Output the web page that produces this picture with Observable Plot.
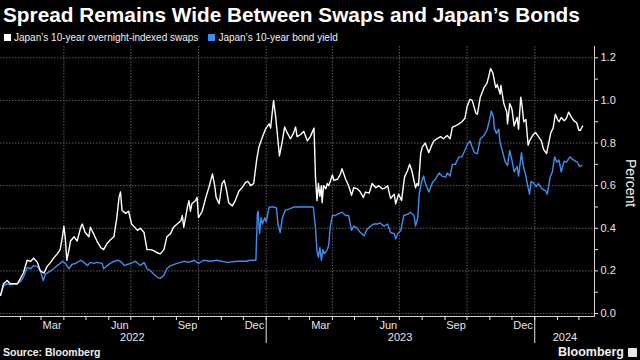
<!DOCTYPE html>
<html>
<head>
<meta charset="utf-8">
<script src="https://cdn.jsdelivr.net/npm/d3@7"></script>
<script src="https://cdn.jsdelivr.net/npm/@observablehq/plot@0.6"></script>
<style>
html,body{margin:0;padding:0;background:#000;}
#wrap{position:relative;width:640px;height:360px;overflow:hidden;background:#000;color:#fff;font-family:"Liberation Sans",Arial,sans-serif;}
#title{position:absolute;left:3px;top:5px;font-weight:bold;font-size:20.8px;line-height:20.8px;white-space:nowrap;color:#fff;}
#legend{position:absolute;left:4px;top:32.5px;font-size:10px;line-height:10px;color:#f0f0f0;white-space:nowrap;}
#legend .item{display:inline-block;margin-right:10px;}
#legend .sw{display:inline-block;width:7px;height:7px;margin-right:3px;vertical-align:0px;}
#chart{position:absolute;left:0;top:44px;}
#ylab{position:absolute;left:631px;top:183px;transform:translate(-50%,-50%) rotate(90deg);font-size:14px;line-height:14px;color:#f0f0f0;white-space:nowrap;}
#source{position:absolute;left:3px;top:347px;font-weight:bold;font-size:10.5px;line-height:10.5px;color:#f0f0f0;white-space:nowrap;}
#logo{position:absolute;right:3px;top:346px;font-weight:bold;font-size:12.5px;line-height:12.5px;color:#f0f0f0;white-space:nowrap;}
#logo .ic{display:inline-block;width:9px;height:9px;background:#e8e8e8;border-radius:1px;margin-left:4px;vertical-align:-1px;}
</style>
</head>
<body>
<div id="wrap">
  <div id="title">Spread Remains Wide Between Swaps and Japan’s Bonds</div>
  <div id="legend"></div>
  <div id="chart"></div>
  <div id="ylab">Percent</div>
  <div id="source">Source: Bloomberg</div>
  <div id="logo">Bloomberg<span class="ic"></span></div>
</div>
<script>
// ---- Series names ----
const seriesNames = ["Japan’s 10-year overnight-indexed swaps", "Japan’s 10-year bond yield"];
const seriesColors = ["#ffffff", "#3d8ef0"];

// ---- Japan 10-year OIS (percent) ----
const swapDates = ["2022-01-05","2022-01-09","2022-01-14","2022-01-18","2022-01-28","2022-02-01","2022-02-05","2022-02-10","2022-02-15","2022-02-19","2022-02-24","2022-02-28","2022-03-05","2022-03-09","2022-03-14","2022-03-18","2022-03-23","2022-03-27","2022-03-30","2022-04-01","2022-04-03","2022-04-05","2022-04-08","2022-04-10","2022-04-15","2022-04-19","2022-04-24","2022-04-26","2022-04-30","2022-05-05","2022-05-07","2022-05-12","2022-05-16","2022-05-21","2022-05-25","2022-05-30","2022-06-03","2022-06-08","2022-06-12","2022-06-15","2022-06-17","2022-06-19","2022-06-24","2022-06-28","2022-07-02","2022-07-05","2022-07-10","2022-07-14","2022-07-19","2022-07-23","2022-07-28","2022-08-01","2022-08-06","2022-08-10","2022-08-15","2022-08-19","2022-08-24","2022-08-28","2022-09-02","2022-09-07","2022-09-09","2022-09-11","2022-09-16","2022-09-18","2022-09-20","2022-09-22","2022-09-27","2022-09-29","2022-10-01","2022-10-06","2022-10-11","2022-10-15","2022-10-20","2022-10-23","2022-10-25","2022-10-29","2022-11-02","2022-11-05","2022-11-08","2022-11-11","2022-11-16","2022-11-20","2022-11-25","2022-11-29","2022-12-04","2022-12-07","2022-12-11","2022-12-15","2022-12-19","2022-12-22","2022-12-27","2022-12-31","2023-01-05","2023-01-07","2023-01-11","2023-01-14","2023-01-19","2023-01-23","2023-01-26","2023-01-30","2023-02-03","2023-02-07","2023-02-10","2023-02-12","2023-02-17","2023-02-21","2023-02-26","2023-03-02","2023-03-07","2023-03-09","2023-03-11","2023-03-13","2023-03-15","2023-03-17","2023-03-18","2023-03-20","2023-03-23","2023-03-25","2023-03-27","2023-04-01","2023-04-03","2023-04-08","2023-04-12","2023-04-14","2023-04-19","2023-04-23","2023-04-27","2023-04-30","2023-05-05","2023-05-09","2023-05-13","2023-05-16","2023-05-21","2023-05-25","2023-05-30","2023-06-03","2023-06-08","2023-06-12","2023-06-15","2023-06-19","2023-06-24","2023-06-26","2023-06-30","2023-07-04","2023-07-08","2023-07-12","2023-07-15","2023-07-18","2023-07-23","2023-07-25","2023-07-27","2023-07-30","2023-08-01","2023-08-05","2023-08-10","2023-08-14","2023-08-17","2023-08-21","2023-08-26","2023-08-30","2023-09-04","2023-09-08","2023-09-11","2023-09-15","2023-09-20","2023-09-24","2023-09-28","2023-10-01","2023-10-05","2023-10-08","2023-10-13","2023-10-15","2023-10-19","2023-10-24","2023-10-28","2023-10-31","2023-11-02","2023-11-05","2023-11-09","2023-11-11","2023-11-15","2023-11-16","2023-11-20","2023-11-24","2023-11-25","2023-11-28","2023-12-01","2023-12-04","2023-12-08","2023-12-10","2023-12-13","2023-12-15","2023-12-17","2023-12-20","2023-12-23","2023-12-25","2023-12-29","2024-01-02","2024-01-07","2024-01-10","2024-01-13","2024-01-17","2024-01-20","2024-01-23","2024-01-26","2024-01-29","2024-02-01","2024-02-03","2024-02-06","2024-02-10","2024-02-13","2024-02-16","2024-02-20","2024-02-23","2024-02-27","2024-03-01","2024-03-03","2024-03-06"];
const swapValues = [0.085,0.14,0.155,0.14,0.14,0.165,0.19,0.25,0.245,0.26,0.24,0.20,0.19,0.22,0.24,0.26,0.28,0.30,0.36,0.41,0.35,0.25,0.30,0.34,0.36,0.34,0.405,0.42,0.38,0.36,0.405,0.37,0.34,0.31,0.30,0.33,0.345,0.36,0.45,0.545,0.57,0.485,0.47,0.48,0.42,0.41,0.39,0.40,0.38,0.30,0.30,0.295,0.285,0.28,0.30,0.36,0.375,0.405,0.42,0.435,0.46,0.405,0.50,0.53,0.48,0.515,0.53,0.545,0.45,0.48,0.545,0.59,0.655,0.60,0.545,0.515,0.61,0.625,0.58,0.52,0.505,0.53,0.575,0.59,0.615,0.62,0.60,0.61,0.72,0.78,0.83,0.865,0.89,0.87,1.00,0.92,0.74,0.81,0.875,0.845,0.82,0.845,0.875,0.83,0.84,0.855,0.81,0.83,0.87,0.64,0.53,0.61,0.55,0.60,0.52,0.60,0.585,0.61,0.60,0.65,0.625,0.63,0.655,0.68,0.63,0.60,0.555,0.59,0.585,0.57,0.545,0.57,0.565,0.61,0.59,0.60,0.585,0.59,0.60,0.54,0.56,0.515,0.56,0.53,0.64,0.67,0.70,0.67,0.59,0.61,0.60,0.75,0.78,0.80,0.755,0.79,0.81,0.82,0.83,0.82,0.835,0.82,0.875,0.88,0.89,0.90,0.915,0.97,1.005,1.00,0.94,0.935,1.015,1.06,1.08,1.12,1.15,1.13,1.06,1.075,1.03,1.07,0.985,0.945,0.89,0.985,0.96,0.88,0.92,0.865,1.015,0.97,0.90,0.91,0.79,0.81,0.835,0.85,0.825,0.81,0.77,0.75,0.80,0.85,0.87,0.935,0.91,0.90,0.92,0.905,0.915,0.945,0.92,0.905,0.895,0.86,0.86,0.88];

// ---- Japan 10-year government bond yield (percent) ----
const bondDates = ["2022-01-05","2022-01-09","2022-01-14","2022-01-18","2022-01-28","2022-02-01","2022-02-05","2022-02-10","2022-02-15","2022-02-19","2022-02-24","2022-02-28","2022-03-04","2022-03-07","2022-03-14","2022-03-18","2022-03-23","2022-03-27","2022-03-30","2022-04-03","2022-04-08","2022-04-12","2022-04-17","2022-04-24","2022-04-28","2022-05-03","2022-05-07","2022-05-12","2022-05-16","2022-05-23","2022-05-25","2022-05-30","2022-06-03","2022-06-08","2022-06-13","2022-06-17","2022-06-22","2022-06-26","2022-07-01","2022-07-07","2022-07-14","2022-07-19","2022-07-23","2022-07-28","2022-08-01","2022-08-06","2022-08-10","2022-08-15","2022-08-19","2022-08-24","2022-09-02","2022-09-11","2022-09-18","2022-09-25","2022-10-01","2022-10-08","2022-10-17","2022-10-26","2022-11-09","2022-11-23","2022-12-04","2022-12-11","2022-12-18","2022-12-20","2022-12-21","2022-12-23","2022-12-25","2022-12-27","2022-12-30","2023-01-01","2023-01-05","2023-01-11","2023-01-15","2023-01-17","2023-01-20","2023-01-23","2023-01-27","2023-02-01","2023-02-08","2023-02-17","2023-02-26","2023-03-06","2023-03-09","2023-03-11","2023-03-13","2023-03-15","2023-03-17","2023-03-19","2023-03-21","2023-03-25","2023-03-27","2023-03-29","2023-04-01","2023-04-05","2023-04-10","2023-04-14","2023-04-19","2023-04-23","2023-04-27","2023-04-30","2023-05-05","2023-05-09","2023-05-14","2023-05-18","2023-05-23","2023-05-27","2023-06-01","2023-06-05","2023-06-10","2023-06-15","2023-06-19","2023-06-24","2023-06-26","2023-06-29","2023-07-03","2023-07-07","2023-07-12","2023-07-16","2023-07-21","2023-07-23","2023-07-26","2023-07-28","2023-07-31","2023-08-03","2023-08-05","2023-08-10","2023-08-15","2023-08-19","2023-08-24","2023-08-28","2023-09-02","2023-09-04","2023-09-08","2023-09-11","2023-09-15","2023-09-20","2023-09-24","2023-09-28","2023-10-01","2023-10-05","2023-10-08","2023-10-11","2023-10-15","2023-10-19","2023-10-24","2023-10-28","2023-10-31","2023-11-03","2023-11-06","2023-11-07","2023-11-10","2023-11-13","2023-11-15","2023-11-19","2023-11-22","2023-11-25","2023-11-28","2023-12-01","2023-12-04","2023-12-08","2023-12-10","2023-12-14","2023-12-16","2023-12-20","2023-12-23","2023-12-25","2023-12-27","2023-12-31","2024-01-03","2024-01-06","2024-01-11","2024-01-16","2024-01-18","2024-01-22","2024-01-25","2024-01-28","2024-01-31","2024-02-03","2024-02-06","2024-02-10","2024-02-13","2024-02-18","2024-02-21","2024-02-25","2024-02-28","2024-03-02","2024-03-05"];
const bondValues = [0.085,0.13,0.14,0.135,0.14,0.15,0.17,0.215,0.21,0.225,0.22,0.20,0.155,0.185,0.20,0.21,0.225,0.235,0.245,0.235,0.21,0.23,0.235,0.25,0.24,0.225,0.24,0.235,0.24,0.235,0.21,0.225,0.235,0.245,0.25,0.245,0.225,0.23,0.235,0.245,0.225,0.24,0.21,0.20,0.185,0.17,0.165,0.18,0.21,0.225,0.235,0.245,0.24,0.25,0.235,0.25,0.245,0.25,0.24,0.245,0.245,0.25,0.25,0.47,0.48,0.375,0.45,0.42,0.45,0.43,0.50,0.50,0.495,0.42,0.38,0.45,0.485,0.49,0.50,0.50,0.50,0.50,0.405,0.295,0.265,0.31,0.25,0.30,0.28,0.30,0.32,0.405,0.46,0.46,0.47,0.475,0.46,0.46,0.39,0.41,0.40,0.38,0.365,0.395,0.41,0.42,0.42,0.425,0.41,0.42,0.38,0.375,0.35,0.375,0.39,0.46,0.465,0.475,0.46,0.41,0.45,0.56,0.615,0.645,0.615,0.57,0.615,0.63,0.66,0.645,0.64,0.66,0.645,0.70,0.70,0.735,0.735,0.765,0.79,0.81,0.78,0.755,0.75,0.82,0.835,0.86,0.90,0.95,0.92,0.87,0.845,0.865,0.80,0.75,0.71,0.695,0.765,0.72,0.665,0.69,0.645,0.755,0.70,0.645,0.59,0.56,0.62,0.61,0.595,0.61,0.585,0.575,0.56,0.64,0.665,0.735,0.71,0.72,0.665,0.715,0.71,0.735,0.725,0.715,0.71,0.69,0.695];

// ---- Axis ticks and labels ----
const xDomainDates = ["2022-01-04T21:00Z", "2024-03-22T05:30Z"];
const yDomainValues = [-0.014, 1.253];
const yTicks = [0, 0.2, 0.4, 0.6, 0.8, 1.0, 1.2];
const yMinorTicks = [0.1, 0.3, 0.5, 0.7, 0.9, 1.1];
const quarterStarts = ["2022-04-01","2022-07-01","2022-10-01","2023-01-01","2023-04-01","2023-07-01","2023-10-01","2024-01-01"];
const monthStarts = ["2022-02-01","2022-03-01","2022-04-01","2022-05-01","2022-06-01","2022-07-01","2022-08-01","2022-09-01","2022-10-01","2022-11-01","2022-12-01","2023-01-01","2023-02-01","2023-03-01","2023-04-01","2023-05-01","2023-06-01","2023-07-01","2023-08-01","2023-09-01","2023-10-01","2023-11-01","2023-12-01","2024-01-01","2024-02-01","2024-03-01"];
const monthLabels = ["Mar","Jun","Sep","Dec","Mar","Jun","Sep","Dec"];
const monthLabelDates = ["2022-03-16","2022-06-16","2022-09-16","2022-12-16","2023-03-16","2023-06-16","2023-09-16","2023-12-16"];
const yearLabels = ["2022","2023","2024"];
const yearLabelDates = ["2022-07-03","2023-07-02","2024-02-11"];
const yearStarts = ["2023-01-01","2024-01-01"];

const parse = d3.utcParse("%Y-%m-%d");
const swap = swapDates.map((d, i) => ({date: parse(d), value: swapValues[i]}));
const bond = bondDates.map((d, i) => ({date: parse(d), value: bondValues[i]}));

const monthLabelMap = new Map(monthLabelDates.map((d, i) => [+parse(d), monthLabels[i]]));
const yearLabelMap = new Map(yearLabelDates.map((d, i) => [+parse(d), yearLabels[i]]));

// Legend
const legend = document.getElementById("legend");
seriesNames.forEach((name, i) => {
  const item = document.createElement("span");
  item.className = "item";
  const sw = document.createElement("span");
  sw.className = "sw";
  sw.style.background = seriesColors[i];
  item.appendChild(sw);
  item.appendChild(document.createTextNode(name));
  legend.appendChild(item);
});

const gridStyle = {stroke: "#5c5c5c", strokeOpacity: 1, strokeWidth: 1, strokeDasharray: "1.5,1.5"};

const chart = Plot.plot({
  width: 640,
  height: 304,
  marginLeft: 0,
  marginRight: 46,
  marginTop: 2,
  marginBottom: 32,
  style: {background: "#000", color: "#e6e6e6", fontFamily: "'Liberation Sans', Arial, sans-serif", fontSize: "11px", overflow: "visible"},
  x: {type: "utc", domain: xDomainDates.map(d => new Date(d)), label: null},
  y: {domain: yDomainValues, label: null},
  marks: [
    Plot.gridY(yTicks, gridStyle),
    Plot.gridX(quarterStarts.map(parse), gridStyle),
    Plot.line(bond, {x: "date", y: "value", stroke: seriesColors[1], strokeWidth: 1.4}),
    Plot.line(swap, {x: "date", y: "value", stroke: seriesColors[0], strokeWidth: 1.4}),
    Plot.frame({anchor: "right", stroke: "#d0d0d0"}),
    Plot.frame({anchor: "bottom", stroke: "#d0d0d0"}),
    Plot.axisY(yTicks, {anchor: "right", tickSize: 3, tickPadding: 3, tickFormat: d => d.toFixed(1), label: null, fontSize: 11}),
    Plot.axisY(yMinorTicks, {anchor: "right", tickSize: 3, tickFormat: () => "", label: null}),
    Plot.axisX(monthStarts.map(parse), {anchor: "bottom", tickSize: 4, tickFormat: () => "", label: null}),
    Plot.axisX(monthLabelDates.map(parse), {anchor: "bottom", tickSize: 0, tickPadding: 5, tickFormat: d => monthLabelMap.get(+d), label: null, fontSize: 11}),
    Plot.axisX(yearLabelDates.map(parse), {anchor: "bottom", tickSize: 0, tickPadding: 17, tickFormat: d => yearLabelMap.get(+d), label: null, fontSize: 11}),
    Plot.axisX(yearStarts.map(parse), {anchor: "bottom", tickSize: 27, tickFormat: () => "", label: null})
  ]
});
document.getElementById("chart").appendChild(chart);
</script>
</body>
</html>
